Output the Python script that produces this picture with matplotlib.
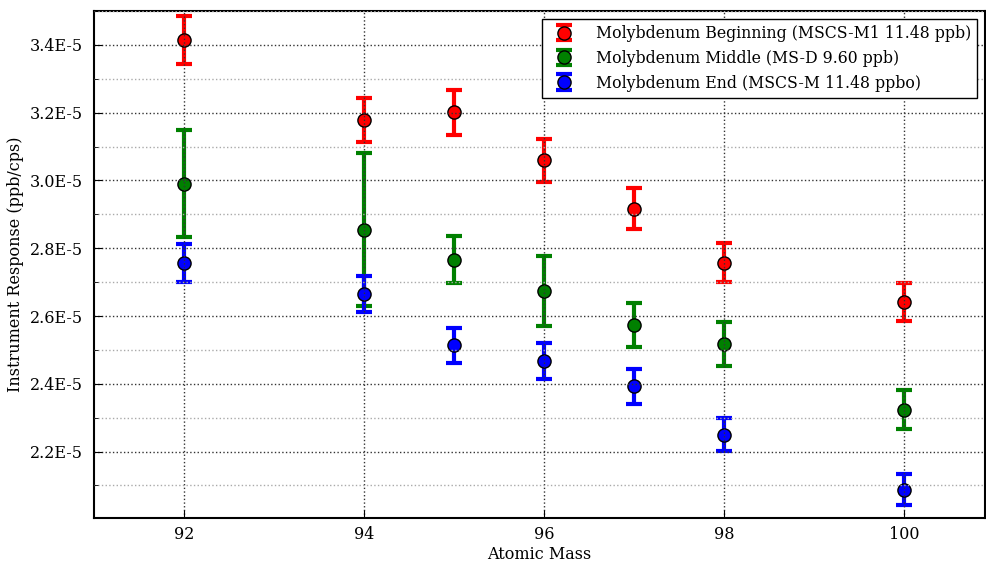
import matplotlib
matplotlib.use("Agg")
import matplotlib.pyplot as plt
from matplotlib.ticker import MultipleLocator, FuncFormatter

plt.rcParams['font.family'] = ['DejaVu Serif']

masses = [92, 94, 95, 96, 97, 98, 100]

beg_vals = [3.415e-5, 3.178e-5, 3.201e-5, 3.059e-5, 2.917e-5, 2.757e-5, 2.641e-5]
beg_errs = [0.071e-5, 0.066e-5, 0.067e-5, 0.063e-5, 0.060e-5, 0.058e-5, 0.055e-5]

mid_vals = [2.991e-5, 2.855e-5, 2.766e-5, 2.674e-5, 2.573e-5, 2.517e-5, 2.324e-5]
mid_errs = [0.157e-5, 0.225e-5, 0.070e-5, 0.104e-5, 0.065e-5, 0.065e-5, 0.058e-5]

end_vals = [2.757e-5, 2.665e-5, 2.514e-5, 2.467e-5, 2.393e-5, 2.250e-5, 2.087e-5]
end_errs = [0.056e-5, 0.053e-5, 0.052e-5, 0.054e-5, 0.052e-5, 0.048e-5, 0.046e-5]

labels = ["Molybdenum Beginning (MSCS-M1 11.48 ppb)",
          "Molybdenum Middle (MS-D 9.60 ppb)",
          "Molybdenum End (MSCS-M 11.48 ppbo)"]
colors = ["red", "green", "blue"]

fig = plt.figure(figsize=(9.86, 5.63), dpi=100)
ax = fig.add_axes([94/986, 45/563, (985-94)/986, (518-11)/563])

for vals, errs, lab, col in zip([beg_vals, mid_vals, end_vals],
                                [beg_errs, mid_errs, end_errs], labels, colors):
    cont = ax.errorbar(masses, vals, yerr=errs, fmt='o', color=col, ecolor=col,
                       markerfacecolor=col, markeredgecolor='black',
                       markersize=9.5, elinewidth=3, capsize=5.5, capthick=3,
                       label=lab, zorder=2)
    cont[0].set_markeredgewidth(1)

ax.set_xlim(91, 100.9)
ax.set_ylim(2.004e-5, 3.5e-5)
ax.set_xticks([92, 94, 96, 98, 100])
ax.yaxis.set_major_locator(MultipleLocator(0.2e-5))
ax.yaxis.set_minor_locator(MultipleLocator(0.1e-5))
ax.yaxis.set_major_formatter(FuncFormatter(lambda v, p: f"{v*1e5:.1f}E-5"))

ax.set_axisbelow(False)
ax.grid(which='major', linestyle=':', color='#333333', linewidth=1.0, zorder=3)
ax.grid(which='minor', axis='y', linestyle=':', color='#aaaaaa', linewidth=1.0, zorder=3)

ax.tick_params(which='both', direction='in', labelsize=11.5)
ax.tick_params(which='major', length=6)
ax.tick_params(axis='y', which='major', pad=8)
ax.tick_params(axis='x', which='major', pad=6)
ax.tick_params(which='minor', length=3)
for s in ax.spines.values():
    s.set_linewidth(1.5)

ax.set_xlabel("Atomic Mass", fontsize=11.5, labelpad=2)
ax.set_ylabel("Instrument Response (ppb/cps)", fontsize=11.5)

leg = ax.legend(loc='upper right', fontsize=11.3, frameon=True, fancybox=False,
                numpoints=1, borderaxespad=0.5, handletextpad=1.0,
                labelspacing=0.5, handlelength=2.0)
leg.get_frame().set_edgecolor('black')
leg.get_frame().set_linewidth(1.0)
leg.get_frame().set_alpha(1)

fig.savefig("out.png", dpi=100)
